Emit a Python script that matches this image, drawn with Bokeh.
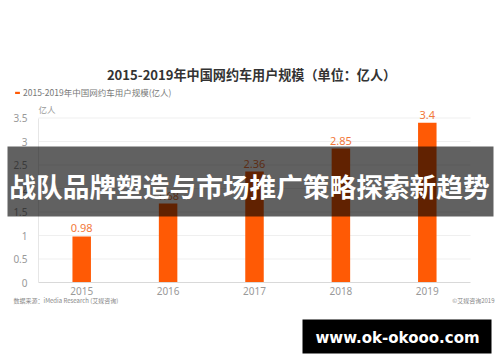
from bokeh.plotting import figure
from bokeh.models import (ColumnDataSource, Range1d, Label, LabelSet,
                          BoxAnnotation, Legend, LegendItem, FixedTicker, NumeralTickFormatter)
from bokeh.core.properties import value
from bokeh.embed import file_html
from bokeh.resources import INLINE

# ---- data ----
years = ["2015", "2016", "2017", "2018", "2019"]
users = [0.98, 1.68, 2.36, 2.85, 3.4]
value_labels = ["0.98", "1.68", "2.36", "2.85", "3.4"]
y_ticks = [0, 0.5, 1, 1.5, 2, 2.5, 3, 3.5]

title_text = "2015-2019年中国网约车用户规模（单位：亿人）"
legend_text = "2015-2019年中国网约车用户规模(亿人)"
unit_text = "亿人"
source_text = "数据来源：iMedia Research (艾媒咨询)"
copyright_text = "©艾媒咨询2019"
banner_text = "战队品牌塑造与市场推广策略探索新趋势"
site_text = "www.ok-okooo.com"

CJK = "Noto Sans CJK SC"
BAR = "#ff5a05"

# ---- layout (pixels) ----
W, H = 500, 362
AREA_L, AREA_R = 38, 470      # chart area left/right
Y0_PX, PX_PER_UNIT = 282, 47  # pixel row of value 0, pixels per unit
n = len(years)
step = (AREA_R - AREA_L) / n
xs = list(range(n))
x_start = -0.5 - AREA_L / step
x_end = -0.5 + (W - AREA_L) / step
y_end = Y0_PX / PX_PER_UNIT
y_start = -(H - Y0_PX) / PX_PER_UNIT

src = ColumnDataSource(dict(x=xs, users=users, label=value_labels))

p = figure(x_range=Range1d(x_start, x_end), y_range=Range1d(y_start, y_end),
           width=W, height=H, min_border=0,
           output_backend="svg", toolbar_location=None, title=None)
p.outline_line_color = None
p.background_fill_color = "white"
p.border_fill_color = "white"
p.grid.visible = False

# grid lines over the chart area
p.segment(x0=[-0.5] * (len(y_ticks) - 1), x1=[n - 0.5] * (len(y_ticks) - 1),
          y0=y_ticks[1:], y1=y_ticks[1:], line_color="#efefef", line_width=1)

bars = p.vbar(x="x", top="users", width=0.214, source=src,
              fill_color=BAR, line_color=None)

# axes at fixed positions inside the canvas
p.yaxis.fixed_location = -0.5
p.yaxis.bounds = (0, y_ticks[-1])
p.yaxis.ticker = FixedTicker(ticks=y_ticks)
p.yaxis.formatter = NumeralTickFormatter(format="0.[0]")
p.yaxis.axis_line_color = "#e6e6e6"
p.yaxis.major_tick_line_color = None
p.yaxis.minor_tick_line_color = None
p.yaxis.major_label_text_color = "#999999"
p.yaxis.major_label_text_font_size = "10px"
p.yaxis.major_label_text_font = "Noto Sans"
p.yaxis.major_label_standoff = 5

p.xaxis.fixed_location = 0
p.xaxis.bounds = (-0.5, n - 0.5)
p.xaxis.ticker = FixedTicker(ticks=xs)
p.xaxis.major_label_overrides = {i: y for i, y in zip(xs, years)}
p.xaxis.axis_line_color = "#d9d9d9"
p.xaxis.major_tick_line_color = None
p.xaxis.minor_tick_line_color = None
p.xaxis.major_label_text_color = "#999999"
p.xaxis.major_label_text_font_size = "10px"
p.xaxis.major_label_text_font = "Noto Sans"
p.xaxis.major_label_standoff = -2

# value labels
p.add_layout(LabelSet(x="x", y="users", text="label", source=src, y_offset=8,
                      text_align="center", text_baseline="middle",
                      text_color="#f2783a", text_font_size="11px",
                      text_font=value("Noto Sans")))

# legend
legend = Legend(items=[LegendItem(label=legend_text, renderers=[bars])],
                location=(14, H - 98), glyph_width=6, glyph_height=3,
                label_text_font_size="8.5px", label_text_color="#777777",
                label_text_font=CJK, label_standoff=3, label_height=10,
                padding=0, margin=0, border_line_alpha=0, background_fill_alpha=0)
p.add_layout(legend)

def lab(text, x, y, size, color, align="left", font=CJK, style="normal"):
    # x, y: pixel position from the top-left corner of the canvas
    p.add_layout(Label(x=x, y=H - y, x_units="screen", y_units="screen", text=text,
                       text_align=align, text_baseline="middle", text_font_size=size,
                       text_color=color, text_font=font, text_font_style=style))

def box(l, r, t, b, color, alpha):
    p.add_layout(BoxAnnotation(left=l, right=r, bottom=H - b, top=H - t,
                               left_units="screen", right_units="screen",
                               bottom_units="screen", top_units="screen",
                               fill_color=color, fill_alpha=alpha, line_color=None))

lab(title_text, 251, 74, "13.1px", "#333333", align="center", style="bold")
lab(unit_text, 38, 108, "8.5px", "#999999")
lab(source_text, 13, 300, "6px", "#888888")
lab(copyright_text, 494, 300, "6px", "#888888", align="right")

# banner overlay
box(7, 493, 146, 216, "black", 0.62)
lab(banner_text, 249, 185, "26.7px", "white", align="center", style="bold")

# site box
box(302, 491, 319, 353, "black", 1.0)
lab(site_text, 397, 337, "15px", "white", align="center", font="DejaVu Sans", style="bold")

open("out.html", "w").write(file_html(p, INLINE))
